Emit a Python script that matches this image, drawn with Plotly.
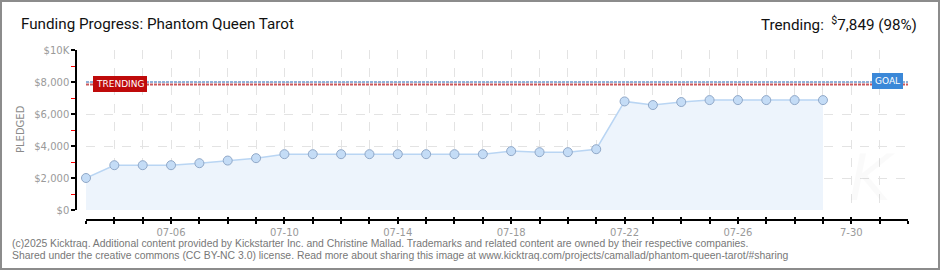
import plotly.graph_objects as go

# ---- data ----
dates = ["2025-07-03", "2025-07-04", "2025-07-05", "2025-07-06", "2025-07-07", "2025-07-08",
         "2025-07-09", "2025-07-10", "2025-07-11", "2025-07-12", "2025-07-13", "2025-07-14",
         "2025-07-15", "2025-07-16", "2025-07-17", "2025-07-18", "2025-07-19", "2025-07-20",
         "2025-07-21", "2025-07-22", "2025-07-23", "2025-07-24", "2025-07-25", "2025-07-26",
         "2025-07-27", "2025-07-28", "2025-07-29"]
pledged = [2000, 2800, 2800, 2800, 2925, 3090,
           3240, 3490, 3490, 3490, 3490, 3490,
           3490, 3490, 3490, 3680, 3615, 3615,
           3800, 6786, 6560, 6748, 6870, 6870,
           6870, 6870, 6870]
goal = 8000
trending = 7849
trending_pct = 98

axis_days = ["2025-07-03", "2025-07-04", "2025-07-05", "2025-07-06", "2025-07-07", "2025-07-08",
             "2025-07-09", "2025-07-10", "2025-07-11", "2025-07-12", "2025-07-13", "2025-07-14",
             "2025-07-15", "2025-07-16", "2025-07-17", "2025-07-18", "2025-07-19", "2025-07-20",
             "2025-07-21", "2025-07-22", "2025-07-23", "2025-07-24", "2025-07-25", "2025-07-26",
             "2025-07-27", "2025-07-28", "2025-07-29", "2025-07-30", "2025-07-31", "2025-08-01"]
x_label_days = {"2025-07-06": "07-06", "2025-07-10": "07-10", "2025-07-14": "07-14",
                "2025-07-18": "07-18", "2025-07-22": "07-22", "2025-07-26": "07-26",
                "2025-07-30": "7-30"}
y_tickvals = [0, 2000, 4000, 6000, 8000, 10000]
y_ticktext = ["$0", "$2,000", "$4,000", "$6,000", "$8,000", "$10K"]

title_text = "Funding Progress: Phantom Queen Tarot"
footer1 = ("(c)2025 Kicktraq. Additional content provided by Kickstarter Inc. and Christine Mallad. "
           "Trademarks and related content are owned by their respective companies.")
footer2 = ("Shared under the creative commons (CC BY-NC 3.0) license. Read more about sharing this image at "
           "www.kicktraq.com/projects/camallad/phantom-queen-tarot/#sharing")

# ---- geometry ----
W, H = 940, 270
ML, MR, MT, MB = 76, 32, 50, 50
PW = W - ML - MR
PH = H - MT - MB


def px(xp):
    return (xp - ML) / PW


def py(yp):
    return (H - MB - yp) / PH


x_ticktext = [x_label_days.get(d, "") for d in axis_days]

fig = go.Figure()
fig.add_trace(go.Scatter(
    x=dates, y=pledged, mode="lines+markers",
    line=dict(color="#b9d5f3", width=1.5),
    fill="tozeroy", fillcolor="#edf4fc",
    marker=dict(size=9, color="#c4dcf6", line=dict(color="#90a8c8", width=1)),
    cliponaxis=False, showlegend=False, hoverinfo="skip",
))
# invisible trace to hold the secondary tick axis
fig.add_trace(go.Scatter(x=[dates[0]], y=[0], xaxis="x2", mode="markers",
                         marker=dict(opacity=0), showlegend=False, hoverinfo="skip"))

tick_font = dict(family="DejaVu Sans", size=10, color="#9a9a9a")

fig.update_layout(
    width=W, height=H,
    margin=dict(l=ML, r=MR, t=MT, b=MB),
    paper_bgcolor="white", plot_bgcolor="white",
    xaxis=dict(
        domain=[10 / PW, 1], anchor="free", position=0,
        range=[axis_days[0], axis_days[-1]],
        tickmode="array", tickvals=axis_days, ticktext=x_ticktext,
        ticks="outside", ticklen=3, tickcolor="black", tickwidth=1.5,
        showline=True, linecolor="black", linewidth=1.5,
        showgrid=True, gridcolor="#e3e3e3", griddash="dash", gridwidth=1,
        zeroline=False, tickfont=tick_font, tickangle=0,
    ),
    xaxis2=dict(
        domain=[10 / PW, 1], anchor="free", position=0, overlaying="x",
        range=[axis_days[0], axis_days[-1]],
        tickmode="array", tickvals=axis_days, ticktext=[""] * len(axis_days),
        ticks="inside", ticklen=3, tickcolor="black", tickwidth=1.5,
        showline=False, showgrid=False, zeroline=False, showticklabels=False,
    ),
    yaxis=dict(
        domain=[10 / PH, 1], anchor="free", position=0,
        range=[0, 10000],
        tickmode="array", tickvals=y_tickvals, ticktext=y_ticktext,
        ticks="outside", ticklen=4, tickcolor="black", tickwidth=1.5,
        showline=True, linecolor="black", linewidth=1.5,
        showgrid=True, gridcolor="#e3e3e3", griddash="dash", gridwidth=1,
        zeroline=False, tickfont=tick_font,
        minor=dict(dtick=1000, tick0=0, ticks="outside", ticklen=4, tickcolor="red",
                   tickwidth=1, showgrid=False),
    ),
)

# goal and trending dashed lines
fig.add_shape(type="line", xref="x domain", yref="y", x0=0, x1=1, y0=goal, y1=goal,
              line=dict(color="#8fb1d9", width=2, dash="3px,1px"))
fig.add_shape(type="line", xref="x domain", yref="y", x0=0, x1=1, y0=trending, y1=trending,
              line=dict(color="#c9575b", width=2, dash="3px,1px"))

# border
fig.add_shape(type="rect", xref="paper", yref="paper",
              x0=px(1), x1=px(W - 1), y0=py(H - 1), y1=py(1),
              line=dict(color="#8c8c8c", width=2), fillcolor="rgba(0,0,0,0)", layer="above")

ann = []
ann.append(dict(text="TRENDING", xref="x domain", yref="y", x=0.0085, y=trending,
                xanchor="left", yanchor="middle", showarrow=False,
                font=dict(family="DejaVu Sans", size=9, color="white"),
                bgcolor="#bf0a0a", borderpad=2, bordercolor="#bf0a0a"))
ann.append(dict(text="GOAL", xref="x domain", yref="y", x=0.9945, y=goal + 40,
                xanchor="right", yanchor="middle", showarrow=False,
                font=dict(family="DejaVu Sans", size=9, color="white"),
                bgcolor="#3b88d8", borderpad=2, bordercolor="#3b88d8"))
ann.append(dict(text=title_text, xref="paper", yref="paper", x=px(19), y=py(24),
                xanchor="left", yanchor="middle", showarrow=False,
                font=dict(family="Roboto", size=15.2, color="#111111")))
ann.append(dict(text="Trending:  <sup>$</sup>7,849 (" + str(trending_pct) + "%)",
                xref="paper", yref="paper", x=px(919), y=py(24),
                xanchor="right", yanchor="middle", showarrow=False,
                font=dict(family="Roboto", size=15.2, color="#111111")))
ann.append(dict(text="PLEDGED", xref="paper", yref="paper", x=px(20), y=py(129),
                xanchor="center", yanchor="middle", showarrow=False, textangle=-90,
                font=dict(family="DejaVu Sans", size=10, color="#8a8a8a")))
ann.append(dict(text=footer1, xref="paper", yref="paper", x=px(10), y=py(243),
                xanchor="left", yanchor="middle", showarrow=False,
                font=dict(family="Liberation Sans", size=10.4, color="#777777")))
ann.append(dict(text=footer2, xref="paper", yref="paper", x=px(10), y=py(256),
                xanchor="left", yanchor="middle", showarrow=False,
                font=dict(family="Liberation Sans", size=10.4, color="#777777")))
ann.append(dict(text="<i>K</i>", xref="paper", yref="paper", x=px(872), y=py(178),
                xanchor="center", yanchor="middle", showarrow=False,
                font=dict(family="DejaVu Sans", size=64, color="rgba(0,0,0,0.018)")))
fig.update_layout(annotations=ann)

fig.write_html("out.html")
